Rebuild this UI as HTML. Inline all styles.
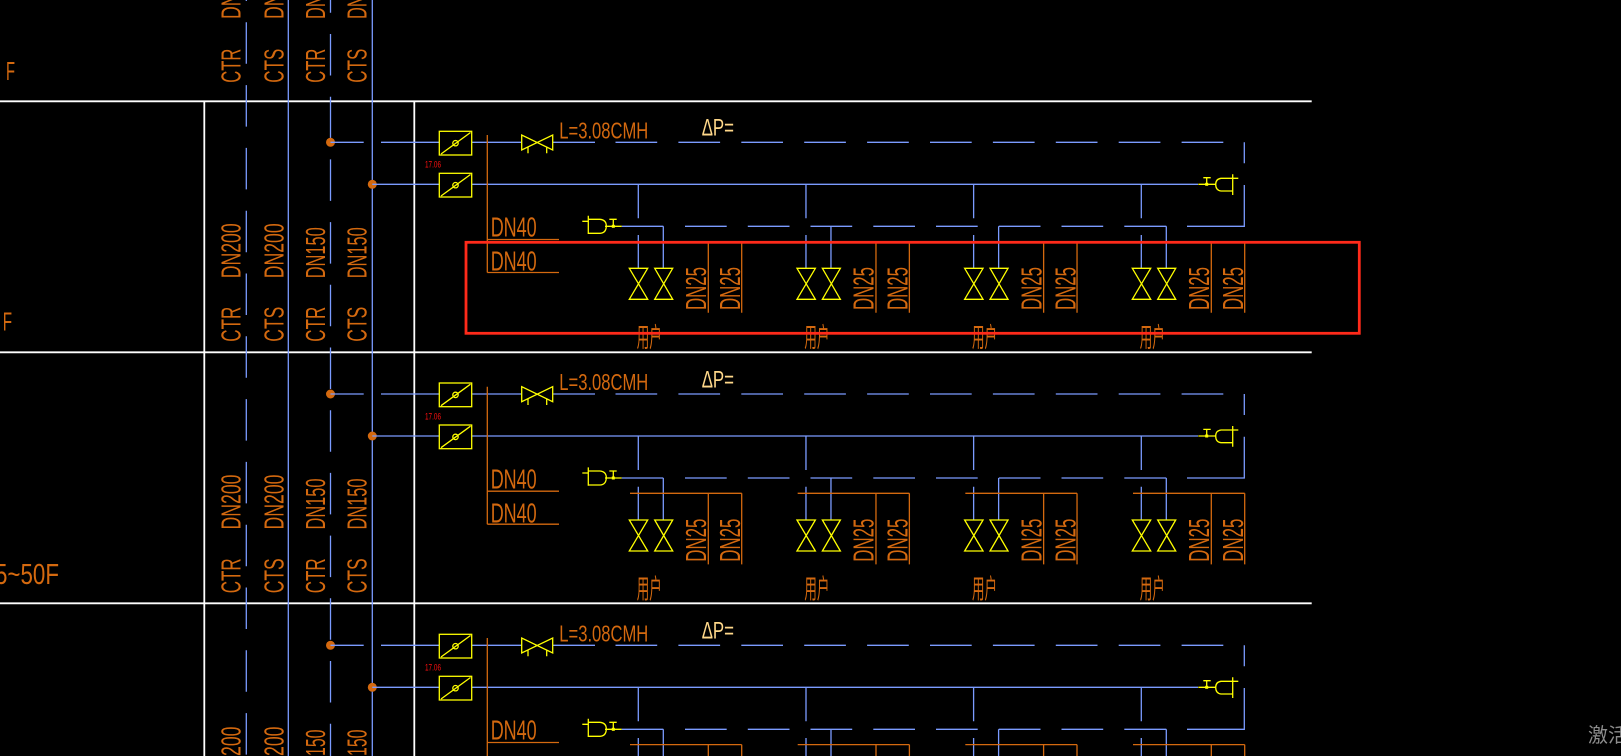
<!DOCTYPE html>
<html>
<head>
<meta charset="utf-8">
<style>
html,body{margin:0;padding:0;background:#000;}
body{width:1621px;height:756px;overflow:hidden;}
svg{display:block;}
text{font-family:"Liberation Sans","Noto Sans CJK SC",sans-serif;fill:#d4690f;}
.cjk{font-family:"Liberation Sans","Noto Sans CJK SC",sans-serif;}
.b{stroke:#7b9bff;stroke-width:1.3;fill:none;}
.y{stroke:#ffff00;stroke-width:1.3;fill:none;}
.o{stroke:#d4690f;stroke-width:1.3;fill:none;}
.w{stroke:#ffffff;stroke-width:1.8;fill:none;}
</style>
</head>
<body>
<svg width="1621" height="756" viewBox="0 0 1621 756" xmlns="http://www.w3.org/2000/svg">
<rect width="1621" height="756" fill="#000"/>

<!-- white frame lines -->
<path class="w" d="M0 101.3H1311.7M0 352.3H1311.7M0 603.3H1311.7M204.3 101.3V756M414.3 101.3V756"/>

<!-- main risers -->
<path class="b" d="M288.3 0V756M372.3 0V756"/>
<line class="b" x1="246.3" y1="0" x2="246.3" y2="756" stroke-dasharray="41.5 21.3" stroke-dashoffset="40.5"/>
<line class="b" x1="330.5" y1="0" x2="330.5" y2="756" stroke-dasharray="41.5 21.2" stroke-dashoffset="28.7"/>

<!-- column labels -->
<g font-size="28">
<!-- row 0 -->
<text transform="translate(240.7,19) rotate(-90)" textLength="55" lengthAdjust="spacingAndGlyphs">DN200</text>
<text transform="translate(283.3,19) rotate(-90)" textLength="55" lengthAdjust="spacingAndGlyphs">DN200</text>
<text transform="translate(325,19) rotate(-90)" textLength="51" lengthAdjust="spacingAndGlyphs">DN150</text>
<text transform="translate(366.7,19) rotate(-90)" textLength="51" lengthAdjust="spacingAndGlyphs">DN150</text>
<text transform="translate(240.7,82.7) rotate(-90)" textLength="34" lengthAdjust="spacingAndGlyphs">CTR</text>
<text transform="translate(283.3,82.7) rotate(-90)" textLength="34" lengthAdjust="spacingAndGlyphs">CTS</text>
<text transform="translate(325,82.7) rotate(-90)" textLength="34" lengthAdjust="spacingAndGlyphs">CTR</text>
<text transform="translate(366.7,82.7) rotate(-90)" textLength="34" lengthAdjust="spacingAndGlyphs">CTS</text>
<!-- row 1 -->
<text transform="translate(240.7,278.3) rotate(-90)" textLength="55" lengthAdjust="spacingAndGlyphs">DN200</text>
<text transform="translate(283.3,278.3) rotate(-90)" textLength="55" lengthAdjust="spacingAndGlyphs">DN200</text>
<text transform="translate(325,278.3) rotate(-90)" textLength="51" lengthAdjust="spacingAndGlyphs">DN150</text>
<text transform="translate(366.7,278.3) rotate(-90)" textLength="51" lengthAdjust="spacingAndGlyphs">DN150</text>
<text transform="translate(240.7,341.7) rotate(-90)" textLength="35" lengthAdjust="spacingAndGlyphs">CTR</text>
<text transform="translate(283.3,341.7) rotate(-90)" textLength="35" lengthAdjust="spacingAndGlyphs">CTS</text>
<text transform="translate(325,341.7) rotate(-90)" textLength="35" lengthAdjust="spacingAndGlyphs">CTR</text>
<text transform="translate(366.7,341.7) rotate(-90)" textLength="35" lengthAdjust="spacingAndGlyphs">CTS</text>
<!-- row 2 -->
<text transform="translate(240.7,529.5) rotate(-90)" textLength="55" lengthAdjust="spacingAndGlyphs">DN200</text>
<text transform="translate(283.3,529.5) rotate(-90)" textLength="55" lengthAdjust="spacingAndGlyphs">DN200</text>
<text transform="translate(325,529.5) rotate(-90)" textLength="51" lengthAdjust="spacingAndGlyphs">DN150</text>
<text transform="translate(366.7,529.5) rotate(-90)" textLength="51" lengthAdjust="spacingAndGlyphs">DN150</text>
<text transform="translate(240.7,593.3) rotate(-90)" textLength="35" lengthAdjust="spacingAndGlyphs">CTR</text>
<text transform="translate(283.3,593.3) rotate(-90)" textLength="35" lengthAdjust="spacingAndGlyphs">CTS</text>
<text transform="translate(325,593.3) rotate(-90)" textLength="35" lengthAdjust="spacingAndGlyphs">CTR</text>
<text transform="translate(366.7,593.3) rotate(-90)" textLength="35" lengthAdjust="spacingAndGlyphs">CTS</text>
<!-- row 3 (partially visible) -->
<text transform="translate(240.7,756) rotate(-90)" textLength="29.5" lengthAdjust="spacingAndGlyphs">200</text>
<text transform="translate(283.3,756) rotate(-90)" textLength="29.5" lengthAdjust="spacingAndGlyphs">200</text>
<text transform="translate(325,756) rotate(-90)" textLength="26.5" lengthAdjust="spacingAndGlyphs">150</text>
<text transform="translate(366.7,756) rotate(-90)" textLength="26.5" lengthAdjust="spacingAndGlyphs">150</text>
</g>

<!-- floor labels -->
<text x="6" y="80" font-size="26" textLength="9" lengthAdjust="spacingAndGlyphs">F</text>
<text x="2.7" y="330.7" font-size="26" textLength="9.3" lengthAdjust="spacingAndGlyphs">F</text>
<text x="-5" y="584" font-size="29" textLength="64" lengthAdjust="spacingAndGlyphs">5~50F</text>

<!-- ================= ROW 1 ================= -->
<g transform="translate(0,0)">
<circle cx="330.5" cy="142.3" r="4.5" fill="#d4690f"/>
<circle cx="372.3" cy="184.3" r="4.5" fill="#d4690f"/>
<path class="b" d="M330.5 142.3H363.7M381 142.3H439.3M471.7 142.3H521.7M552.7 142.3H595M372.3 184.3H439.3M471.7 184.3H1198M1244.3 142.3V163.3M1244.3 185V226.3H1187M621.7 226.3H663.3M685 226.3H726.7M747.8 226.3H789.5M810.5 226.3H852.2M873.3 226.3H915M936 226.3H977.7M998.8 226.3H1040.5M1061.5 226.3H1103.2M1124.3 226.3H1166.3"/>
<line class="b" x1="615.5" y1="142.3" x2="1223.3" y2="142.3" stroke-dasharray="41.7 21.2"/>
<g class="y">
<rect x="439.3" y="131.3" width="32.4" height="23.7"/>
<line x1="441" y1="154" x2="470.5" y2="132.5"/>
<circle cx="455.5" cy="143.2" r="2.7"/>
<rect x="439.3" y="173.3" width="32.4" height="23.7"/>
<line x1="441" y1="196" x2="470.5" y2="174.5"/>
<circle cx="455.5" cy="185.2" r="2.7"/>
<path d="M521.7 135V150L552.7 135V150ZM528 147V153.3M546.7 147V153.3"/>
<path d="M582.3 221.3H588.3M588.3 215.7V234M588.3 219.3H600Q606.5 220 606.3 226.3Q606 233 600 233.3H588.3M605 226.3H621.7M609.3 219.3H616.7M613.3 219.3V226.3"/>
<path d="M1198.3 184.3H1215.7M1203.3 177.7H1210.7M1206.7 177.7V184.3M1232.7 178.3H1221Q1215.7 179 1215.7 184.3Q1215.7 190.5 1221 191H1232.7M1232.7 174.3V195M1232.7 178.3H1238.3"/>
</g>
<rect x="611.8" y="224.8" width="3" height="3" fill="#ffff00"/>
<rect x="1205.2" y="182.8" width="3" height="3" fill="#ffff00"/>
<path class="o" d="M487.3 135V272.5M487.3 239.5H559M487.3 272.5H559"/>
<text x="490.7" y="236.7" font-size="28" textLength="46" lengthAdjust="spacingAndGlyphs">DN40</text>
<text x="490.7" y="270.7" font-size="28" textLength="46" lengthAdjust="spacingAndGlyphs">DN40</text>
<text x="559.3" y="138.3" font-size="23" textLength="89" lengthAdjust="spacingAndGlyphs">L=3.08CMH</text>
<text x="701.7" y="135.7" font-size="24" textLength="32.3" lengthAdjust="spacingAndGlyphs" style="fill:#ffd88a">ΔP=</text>
<text x="425" y="167.7" font-size="9" textLength="16" lengthAdjust="spacingAndGlyphs" style="fill:#ff1010">17.06</text>
<g transform="translate(0,0)">
<path class="b" d="M638.3 184.3V218.3M638.3 235V268.3M663.3 226.3V268.3"/>
<path class="y" d="M629.3 268.3H647.7L629.3 299.3H647.7ZM654.7 268.3H672.7L654.7 299.3H672.7Z"/>
<path class="o" d="M630 241.6H741.7M708.3 241.6V312.7M741.7 241.6V312.7"/>
<text transform="translate(706,310) rotate(-90)" font-size="29" textLength="43" lengthAdjust="spacingAndGlyphs">DN25</text>
<text transform="translate(740,310) rotate(-90)" font-size="29" textLength="43" lengthAdjust="spacingAndGlyphs">DN25</text>
<text class="cjk" x="636.7" y="347" font-size="27" textLength="25" lengthAdjust="spacingAndGlyphs">用户</text>
</g>
<g transform="translate(167.67,0)">
<path class="b" d="M638.3 184.3V218.3M638.3 235V268.3M663.3 226.3V268.3"/>
<path class="y" d="M629.3 268.3H647.7L629.3 299.3H647.7ZM654.7 268.3H672.7L654.7 299.3H672.7Z"/>
<path class="o" d="M630 241.6H741.7M708.3 241.6V312.7M741.7 241.6V312.7"/>
<text transform="translate(706,310) rotate(-90)" font-size="29" textLength="43" lengthAdjust="spacingAndGlyphs">DN25</text>
<text transform="translate(740,310) rotate(-90)" font-size="29" textLength="43" lengthAdjust="spacingAndGlyphs">DN25</text>
<text class="cjk" x="636.7" y="347" font-size="27" textLength="25" lengthAdjust="spacingAndGlyphs">用户</text>
</g>
<g transform="translate(335.33,0)">
<path class="b" d="M638.3 184.3V218.3M638.3 235V268.3M663.3 226.3V268.3"/>
<path class="y" d="M629.3 268.3H647.7L629.3 299.3H647.7ZM654.7 268.3H672.7L654.7 299.3H672.7Z"/>
<path class="o" d="M630 241.6H741.7M708.3 241.6V312.7M741.7 241.6V312.7"/>
<text transform="translate(706,310) rotate(-90)" font-size="29" textLength="43" lengthAdjust="spacingAndGlyphs">DN25</text>
<text transform="translate(740,310) rotate(-90)" font-size="29" textLength="43" lengthAdjust="spacingAndGlyphs">DN25</text>
<text class="cjk" x="636.7" y="347" font-size="27" textLength="25" lengthAdjust="spacingAndGlyphs">用户</text>
</g>
<g transform="translate(503,0)">
<path class="b" d="M638.3 184.3V218.3M638.3 235V268.3M663.3 226.3V268.3"/>
<path class="y" d="M629.3 268.3H647.7L629.3 299.3H647.7ZM654.7 268.3H672.7L654.7 299.3H672.7Z"/>
<path class="o" d="M630 241.6H741.7M708.3 241.6V312.7M741.7 241.6V312.7"/>
<text transform="translate(706,310) rotate(-90)" font-size="29" textLength="43" lengthAdjust="spacingAndGlyphs">DN25</text>
<text transform="translate(740,310) rotate(-90)" font-size="29" textLength="43" lengthAdjust="spacingAndGlyphs">DN25</text>
<text class="cjk" x="636.7" y="347" font-size="27" textLength="25" lengthAdjust="spacingAndGlyphs">用户</text>
</g>
</g>

<!-- ================= ROW 2 ================= -->
<g transform="translate(0,251.7)">
<circle cx="330.5" cy="142.3" r="4.5" fill="#d4690f"/>
<circle cx="372.3" cy="184.3" r="4.5" fill="#d4690f"/>
<path class="b" d="M330.5 142.3H363.7M381 142.3H439.3M471.7 142.3H521.7M552.7 142.3H595M372.3 184.3H439.3M471.7 184.3H1198M1244.3 142.3V163.3M1244.3 185V226.3H1187M621.7 226.3H663.3M685 226.3H726.7M747.8 226.3H789.5M810.5 226.3H852.2M873.3 226.3H915M936 226.3H977.7M998.8 226.3H1040.5M1061.5 226.3H1103.2M1124.3 226.3H1166.3"/>
<line class="b" x1="615.5" y1="142.3" x2="1223.3" y2="142.3" stroke-dasharray="41.7 21.2"/>
<g class="y">
<rect x="439.3" y="131.3" width="32.4" height="23.7"/>
<line x1="441" y1="154" x2="470.5" y2="132.5"/>
<circle cx="455.5" cy="143.2" r="2.7"/>
<rect x="439.3" y="173.3" width="32.4" height="23.7"/>
<line x1="441" y1="196" x2="470.5" y2="174.5"/>
<circle cx="455.5" cy="185.2" r="2.7"/>
<path d="M521.7 135V150L552.7 135V150ZM528 147V153.3M546.7 147V153.3"/>
<path d="M582.3 221.3H588.3M588.3 215.7V234M588.3 219.3H600Q606.5 220 606.3 226.3Q606 233 600 233.3H588.3M605 226.3H621.7M609.3 219.3H616.7M613.3 219.3V226.3"/>
<path d="M1198.3 184.3H1215.7M1203.3 177.7H1210.7M1206.7 177.7V184.3M1232.7 178.3H1221Q1215.7 179 1215.7 184.3Q1215.7 190.5 1221 191H1232.7M1232.7 174.3V195M1232.7 178.3H1238.3"/>
</g>
<rect x="611.8" y="224.8" width="3" height="3" fill="#ffff00"/>
<rect x="1205.2" y="182.8" width="3" height="3" fill="#ffff00"/>
<path class="o" d="M487.3 135V272.5M487.3 239.5H559M487.3 272.5H559"/>
<text x="490.7" y="236.7" font-size="28" textLength="46" lengthAdjust="spacingAndGlyphs">DN40</text>
<text x="490.7" y="270.7" font-size="28" textLength="46" lengthAdjust="spacingAndGlyphs">DN40</text>
<text x="559.3" y="138.3" font-size="23" textLength="89" lengthAdjust="spacingAndGlyphs">L=3.08CMH</text>
<text x="701.7" y="135.7" font-size="24" textLength="32.3" lengthAdjust="spacingAndGlyphs" style="fill:#ffd88a">ΔP=</text>
<text x="425" y="167.7" font-size="9" textLength="16" lengthAdjust="spacingAndGlyphs" style="fill:#ff1010">17.06</text>
<g transform="translate(0,0)">
<path class="b" d="M638.3 184.3V218.3M638.3 235V268.3M663.3 226.3V268.3"/>
<path class="y" d="M629.3 268.3H647.7L629.3 299.3H647.7ZM654.7 268.3H672.7L654.7 299.3H672.7Z"/>
<path class="o" d="M630 241.6H741.7M708.3 241.6V312.7M741.7 241.6V312.7"/>
<text transform="translate(706,310) rotate(-90)" font-size="29" textLength="43" lengthAdjust="spacingAndGlyphs">DN25</text>
<text transform="translate(740,310) rotate(-90)" font-size="29" textLength="43" lengthAdjust="spacingAndGlyphs">DN25</text>
<text class="cjk" x="636.7" y="347" font-size="27" textLength="25" lengthAdjust="spacingAndGlyphs">用户</text>
</g>
<g transform="translate(167.67,0)">
<path class="b" d="M638.3 184.3V218.3M638.3 235V268.3M663.3 226.3V268.3"/>
<path class="y" d="M629.3 268.3H647.7L629.3 299.3H647.7ZM654.7 268.3H672.7L654.7 299.3H672.7Z"/>
<path class="o" d="M630 241.6H741.7M708.3 241.6V312.7M741.7 241.6V312.7"/>
<text transform="translate(706,310) rotate(-90)" font-size="29" textLength="43" lengthAdjust="spacingAndGlyphs">DN25</text>
<text transform="translate(740,310) rotate(-90)" font-size="29" textLength="43" lengthAdjust="spacingAndGlyphs">DN25</text>
<text class="cjk" x="636.7" y="347" font-size="27" textLength="25" lengthAdjust="spacingAndGlyphs">用户</text>
</g>
<g transform="translate(335.33,0)">
<path class="b" d="M638.3 184.3V218.3M638.3 235V268.3M663.3 226.3V268.3"/>
<path class="y" d="M629.3 268.3H647.7L629.3 299.3H647.7ZM654.7 268.3H672.7L654.7 299.3H672.7Z"/>
<path class="o" d="M630 241.6H741.7M708.3 241.6V312.7M741.7 241.6V312.7"/>
<text transform="translate(706,310) rotate(-90)" font-size="29" textLength="43" lengthAdjust="spacingAndGlyphs">DN25</text>
<text transform="translate(740,310) rotate(-90)" font-size="29" textLength="43" lengthAdjust="spacingAndGlyphs">DN25</text>
<text class="cjk" x="636.7" y="347" font-size="27" textLength="25" lengthAdjust="spacingAndGlyphs">用户</text>
</g>
<g transform="translate(503,0)">
<path class="b" d="M638.3 184.3V218.3M638.3 235V268.3M663.3 226.3V268.3"/>
<path class="y" d="M629.3 268.3H647.7L629.3 299.3H647.7ZM654.7 268.3H672.7L654.7 299.3H672.7Z"/>
<path class="o" d="M630 241.6H741.7M708.3 241.6V312.7M741.7 241.6V312.7"/>
<text transform="translate(706,310) rotate(-90)" font-size="29" textLength="43" lengthAdjust="spacingAndGlyphs">DN25</text>
<text transform="translate(740,310) rotate(-90)" font-size="29" textLength="43" lengthAdjust="spacingAndGlyphs">DN25</text>
<text class="cjk" x="636.7" y="347" font-size="27" textLength="25" lengthAdjust="spacingAndGlyphs">用户</text>
</g>
</g>

<!-- ================= ROW 3 (partial) ================= -->
<g transform="translate(0,503)">
<circle cx="330.5" cy="142.3" r="4.5" fill="#d4690f"/>
<circle cx="372.3" cy="184.3" r="4.5" fill="#d4690f"/>
<path class="b" d="M330.5 142.3H363.7M381 142.3H439.3M471.7 142.3H521.7M552.7 142.3H595M372.3 184.3H439.3M471.7 184.3H1198M1244.3 142.3V163.3M1244.3 185V226.3H1187M621.7 226.3H663.3M685 226.3H726.7M747.8 226.3H789.5M810.5 226.3H852.2M873.3 226.3H915M936 226.3H977.7M998.8 226.3H1040.5M1061.5 226.3H1103.2M1124.3 226.3H1166.3"/>
<line class="b" x1="615.5" y1="142.3" x2="1223.3" y2="142.3" stroke-dasharray="41.7 21.2"/>
<g class="y">
<rect x="439.3" y="131.3" width="32.4" height="23.7"/>
<line x1="441" y1="154" x2="470.5" y2="132.5"/>
<circle cx="455.5" cy="143.2" r="2.7"/>
<rect x="439.3" y="173.3" width="32.4" height="23.7"/>
<line x1="441" y1="196" x2="470.5" y2="174.5"/>
<circle cx="455.5" cy="185.2" r="2.7"/>
<path d="M521.7 135V150L552.7 135V150ZM528 147V153.3M546.7 147V153.3"/>
<path d="M582.3 221.3H588.3M588.3 215.7V234M588.3 219.3H600Q606.5 220 606.3 226.3Q606 233 600 233.3H588.3M605 226.3H621.7M609.3 219.3H616.7M613.3 219.3V226.3"/>
<path d="M1198.3 184.3H1215.7M1203.3 177.7H1210.7M1206.7 177.7V184.3M1232.7 178.3H1221Q1215.7 179 1215.7 184.3Q1215.7 190.5 1221 191H1232.7M1232.7 174.3V195M1232.7 178.3H1238.3"/>
</g>
<rect x="611.8" y="224.8" width="3" height="3" fill="#ffff00"/>
<rect x="1205.2" y="182.8" width="3" height="3" fill="#ffff00"/>
<path class="o" d="M487.3 135V253M487.3 239.5H559"/>
<text x="490.7" y="236.7" font-size="28" textLength="46" lengthAdjust="spacingAndGlyphs">DN40</text>
<text x="559.3" y="138.3" font-size="23" textLength="89" lengthAdjust="spacingAndGlyphs">L=3.08CMH</text>
<text x="701.7" y="135.7" font-size="24" textLength="32.3" lengthAdjust="spacingAndGlyphs" style="fill:#ffd88a">ΔP=</text>
<text x="425" y="167.7" font-size="9" textLength="16" lengthAdjust="spacingAndGlyphs" style="fill:#ff1010">17.06</text>
<path class="b" d="M638.3 184.3V218.3M638.3 235V253M663.3 226.3V253M806 184.3V218.3M806 235V253M831 226.3V253M973.6 184.3V218.3M973.6 235V253M998.6 226.3V253M1141.3 184.3V218.3M1141.3 235V253M1166.3 226.3V253"/>
<path class="o" d="M630 241.6H741.7M708.3 241.6V253M741.7 241.6V253M797.7 241.6H909.4M876 241.6V253M909.4 241.6V253M965.3 241.6H1077M1043.6 241.6V253M1077 241.6V253M1133 241.6H1244.7M1211.3 241.6V253M1244.7 241.6V253"/>
</g>

<!-- red highlight box -->
<rect x="466" y="242.3" width="893.3" height="91" fill="none" stroke="#ff2a1a" stroke-width="2.8"/>

<!-- watermark -->
<text class="cjk" x="1588" y="742" font-size="20" style="fill:#8c8c8c">激活 Windows</text>
</svg>
</body>
</html>
